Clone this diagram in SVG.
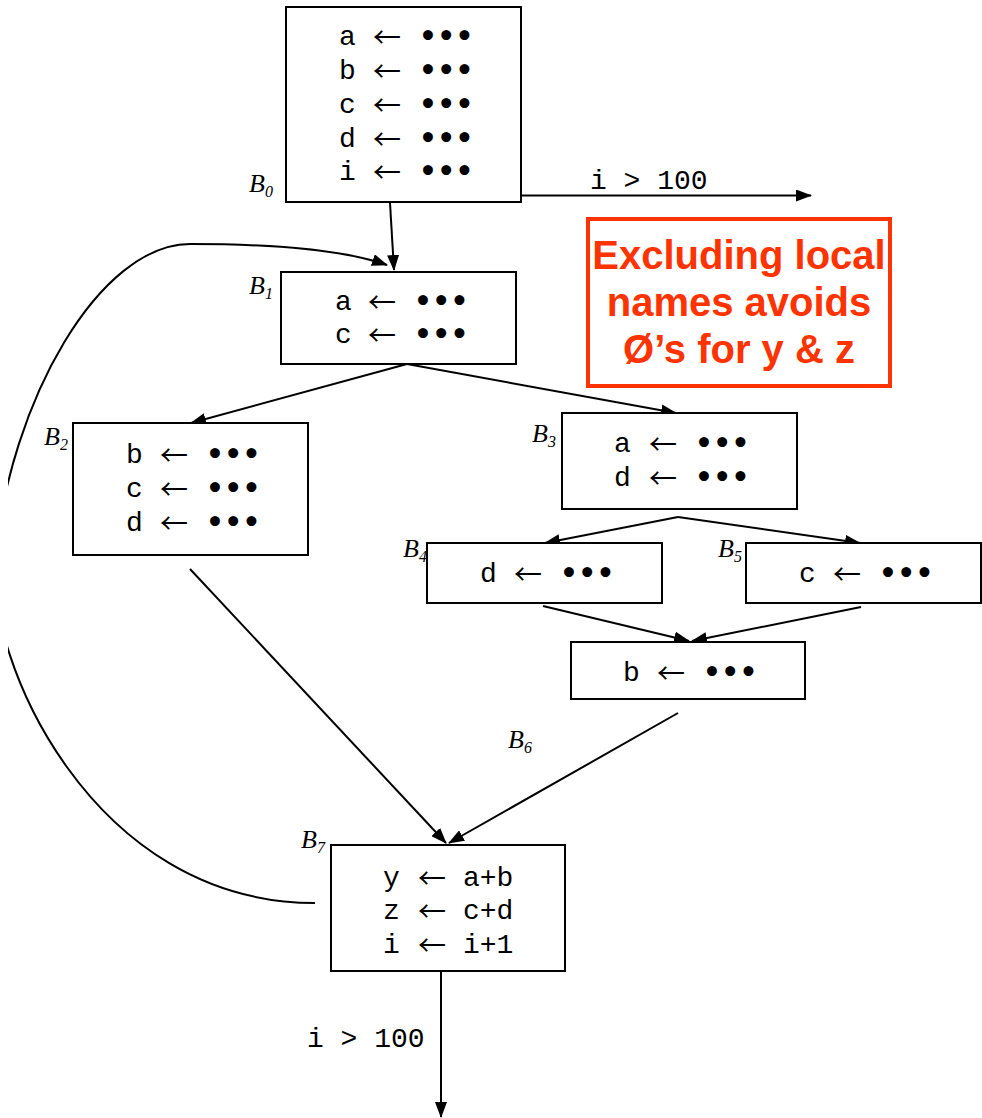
<svg xmlns="http://www.w3.org/2000/svg" width="982" height="1118" viewBox="0 0 982 1118">
  <style>
    .box { fill: #ffffff; stroke: #000000; stroke-width: 2; }
    .code { font-family: "Liberation Mono", "Courier New", monospace; font-size: 28px; fill: #000000; }
    .arr { font-family: "Noto Sans CJK JP", "DejaVu Sans", sans-serif; font-size: 28px; fill: #000000; }
    .dots { font-family: "DejaVu Sans", sans-serif; font-weight: bold; font-size: 28px; letter-spacing: 0.4px; fill: #000000; }
    .lbl { font-family: "Liberation Serif", "Times New Roman", serif; font-style: italic; font-size: 26px; fill: #000000; }
    .sub { font-size: 16px; }
    .edge { fill: none; stroke: #000000; stroke-width: 2; }
    .note { fill: #ffffff; stroke: #ff3300; stroke-width: 4; }
    .notetext { font-family: "Liberation Sans", Arial, sans-serif; font-weight: bold; font-size: 40px; fill: #ff3300; text-anchor: middle; }
  </style>
  <defs>
    <marker id="ah" markerWidth="16" markerHeight="12" refX="15" refY="6" orient="auto" markerUnits="userSpaceOnUse">
      <path d="M0,0 L16,6 L0,12 z" fill="#000000"/>
    </marker>
    <clipPath id="page">
      <rect x="8" y="0" width="974" height="1118"/>
    </clipPath>
  </defs>

  <rect width="982" height="1118" fill="#ffffff"/>

  <!-- connectors -->
  <g id="connectors">
    <!-- exit from B0 -->
    <line class="edge" x1="519" y1="195.5" x2="811" y2="195.5" marker-end="url(#ah)"/>
    <text class="code" x="590" y="189">i &gt; 100</text>
    <!-- B0 -> B1 -->
    <line class="edge" x1="390" y1="203" x2="394" y2="270" marker-end="url(#ah)"/>
    <!-- back edge B7 -> B1 -->
    <path class="edge" clip-path="url(#page)" d="M315,903 C90,903 -14,656 -5,560 C10,400 100,244 190,244 C290,244 350,252 387,265" marker-end="url(#ah)"/>
    <!-- B1 -> B2, B1 -> B3 -->
    <line class="edge" x1="407" y1="364" x2="191" y2="423" marker-end="url(#ah)"/>
    <line class="edge" x1="407" y1="364" x2="676" y2="413" marker-end="url(#ah)"/>
    <!-- B3 -> B4, B3 -> B5 -->
    <line class="edge" x1="678" y1="517" x2="545" y2="543" marker-end="url(#ah)"/>
    <line class="edge" x1="678" y1="517" x2="860" y2="543" marker-end="url(#ah)"/>
    <!-- B4 -> B6, B5 -> B6 -->
    <line class="edge" x1="543" y1="606" x2="689" y2="641" marker-end="url(#ah)"/>
    <line class="edge" x1="861" y1="607" x2="692" y2="641" marker-end="url(#ah)"/>
    <!-- B2 -> B7, B6 -> B7 -->
    <line class="edge" x1="190" y1="569" x2="446" y2="843" marker-end="url(#ah)"/>
    <line class="edge" x1="678" y1="713" x2="449" y2="843" marker-end="url(#ah)"/>
    <!-- exit from B7 -->
    <line class="edge" x1="441" y1="971" x2="441" y2="1117" marker-end="url(#ah)"/>
    <text class="code" x="307" y="1047">i &gt; 100</text>
  </g>

  <!-- B0 -->
  <g id="B0">
    <rect class="box" x="286" y="7" width="235" height="195"/>
    <text class="code" x="339" y="45">a</text><text class="arr" x="373" y="48">←</text><text class="dots" x="419" y="46">•••</text>
    <text class="code" x="339" y="79">b</text><text class="arr" x="373" y="82">←</text><text class="dots" x="419" y="80">•••</text>
    <text class="code" x="339" y="113">c</text><text class="arr" x="373" y="116">←</text><text class="dots" x="419" y="114">•••</text>
    <text class="code" x="339" y="147">d</text><text class="arr" x="373" y="150">←</text><text class="dots" x="419" y="148">•••</text>
    <text class="code" x="339" y="180">i</text><text class="arr" x="373" y="183">←</text><text class="dots" x="419" y="181">•••</text>
    <text class="lbl" x="249" y="192">B<tspan class="sub" dy="5">0</tspan></text>
  </g>

  <!-- B1 -->
  <g id="B1">
    <rect class="box" x="281" y="272" width="235" height="92"/>
    <text class="code" x="335" y="310">a</text><text class="arr" x="368" y="313">←</text><text class="dots" x="414" y="311">•••</text>
    <text class="code" x="335" y="343">c</text><text class="arr" x="368" y="346">←</text><text class="dots" x="414" y="344">•••</text>
    <text class="lbl" x="249" y="294">B<tspan class="sub" dy="5">1</tspan></text>
  </g>

  <!-- B2 -->
  <g id="B2">
    <rect class="box" x="73" y="423" width="235" height="132"/>
    <text class="code" x="126" y="463">b</text><text class="arr" x="160" y="466">←</text><text class="dots" x="206" y="464">•••</text>
    <text class="code" x="126" y="497">c</text><text class="arr" x="160" y="500">←</text><text class="dots" x="206" y="498">•••</text>
    <text class="code" x="126" y="531">d</text><text class="arr" x="160" y="534">←</text><text class="dots" x="206" y="532">•••</text>
    <text class="lbl" x="44" y="445">B<tspan class="sub" dy="5">2</tspan></text>
  </g>

  <!-- B3 -->
  <g id="B3">
    <rect class="box" x="562" y="413" width="235" height="96"/>
    <text class="code" x="614" y="452">a</text><text class="arr" x="649" y="455">←</text><text class="dots" x="695" y="453">•••</text>
    <text class="code" x="614" y="486">d</text><text class="arr" x="649" y="489">←</text><text class="dots" x="695" y="487">•••</text>
    <text class="lbl" x="532" y="442">B<tspan class="sub" dy="5">3</tspan></text>
  </g>

  <!-- B4 -->
  <g id="B4">
    <rect class="box" x="427" y="543" width="235" height="60"/>
    <text class="code" x="480" y="582">d</text><text class="arr" x="514" y="585">←</text><text class="dots" x="560" y="583">•••</text>
    <text class="lbl" x="403" y="557">B<tspan class="sub" dy="5">4</tspan></text>
  </g>

  <!-- B5 -->
  <g id="B5">
    <rect class="box" x="746" y="543" width="235" height="60"/>
    <text class="code" x="799" y="582">c</text><text class="arr" x="833" y="585">←</text><text class="dots" x="879" y="583">•••</text>
    <text class="lbl" x="718" y="557">B<tspan class="sub" dy="5">5</tspan></text>
  </g>

  <!-- B6 -->
  <g id="B6">
    <rect class="box" x="571" y="642" width="234" height="57"/>
    <text class="code" x="623" y="681">b</text><text class="arr" x="657" y="684">←</text><text class="dots" x="703" y="682">•••</text>
    <text class="lbl" x="508" y="748">B<tspan class="sub" dy="5">6</tspan></text>
  </g>

  <!-- B7 -->
  <g id="B7">
    <rect class="box" x="331" y="845" width="234" height="126"/>
    <text class="code" x="383" y="886">y</text><text class="arr" x="418" y="889">←</text><text class="code" x="463" y="886">a+b</text>
    <text class="code" x="383" y="919">z</text><text class="arr" x="418" y="922">←</text><text class="code" x="463" y="919">c+d</text>
    <text class="code" x="383" y="953">i</text><text class="arr" x="418" y="956">←</text><text class="code" x="463" y="953">i+1</text>
    <text class="lbl" x="301" y="848">B<tspan class="sub" dy="5">7</tspan></text>
  </g>

  <!-- annotation -->
  <g id="note">
    <rect class="note" x="588" y="219" width="302" height="167"/>
    <text class="notetext" x="739" y="269">Excluding local</text>
    <text class="notetext" x="739" y="316">names avoids</text>
    <text class="notetext" x="739" y="363">Ø’s for y &amp; z</text>
  </g>
</svg>
